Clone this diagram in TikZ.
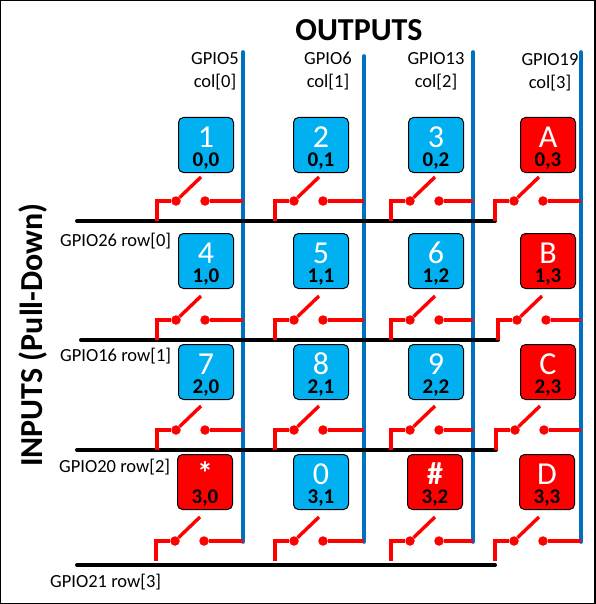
\documentclass[tikz,border=0pt]{standalone}
\usepackage{fontspec}
\setmainfont{Carlito}
\usepackage{xcolor}
\usetikzlibrary{positioning,calc}
\definecolor{keyblue}{HTML}{00B0F0}
\definecolor{keyred}{HTML}{FF0000}
\definecolor{colblue}{HTML}{0070C0}
\tikzset{
  bluekey/.style={draw=black,line width=1pt,fill=keyblue,rounded corners=5pt,minimum size=55pt,inner sep=0pt},
  redkey/.style={bluekey,fill=keyred},
  keynum/.style={text=white,font=\fontsize{32}{33}\selectfont,inner sep=0pt,text height=20pt,text depth=0pt},
  keyid/.style={text=black,font=\fontsize{21}{22}\selectfont\bfseries,inner sep=0pt,text height=14pt,text depth=3pt},
  colwire/.style={draw=colblue,line width=3.6pt,line cap=round},
  rowwire/.style={draw=black,line width=4pt,line cap=round},
  redwire/.style={draw=red,line width=3.4pt},
  contact/.style={circle,fill=red,minimum size=9.5pt,inner sep=0pt},
  gpiotxt/.style={font=\fontsize{18.5}{23}\selectfont,inner sep=0pt,align=center},
  headtxt/.style={font=\fontsize{32}{34}\selectfont\bfseries,inner sep=0pt},
}
\newcommand{\padkey}[6]{%
  \node[#3] (k#1#2) at (#4,#5) {};
  \node[keynum] (n#1#2) at ([yshift=8pt]k#1#2) {#6};
  \node[keyid] (i#1#2) at ([yshift=-16pt]k#1#2) {#1,#2};
}
\newcommand{\padswitch}[5]{%
  \node[contact] (a#1#2) at (#3+19,#4) {};
  \node[contact] (b#1#2) at (#3+48,#4) {};
  \coordinate (h#1#2) at (#3+44,#4-24);
  \coordinate (t#1#2) at (#3,#4+20);
  \draw[redwire] (a#1#2) -- (h#1#2);
  \draw[redwire,line join=miter] (a#1#2) -| (t#1#2);
  \draw[redwire] (b#1#2) -- (b#1#2 -| #5);
}
\begin{document}
\begin{tikzpicture}[x=1pt,y=-1pt]
\useasboundingbox (0,0) rectangle (595,604);
\draw[black,line width=2pt] (0,0) rectangle (595,604);
% column wires
\coordinate (c0a) at (243,52); \coordinate (c0b) at (243,542);
\coordinate (c1a) at (364,56); \coordinate (c1b) at (364,542);
\coordinate (c2a) at (473,52); \coordinate (c2b) at (473,542);
\coordinate (c3a) at (581,52); \coordinate (c3b) at (581,542);
\draw[colwire] (c0a) -- (c0b);
\draw[colwire] (c1a) -- (c1b);
\draw[colwire] (c2a) -- (c2b);
\draw[colwire] (c3a) -- (c3b);
% row wires
\coordinate (r0a) at (77,221); \coordinate (r0b) at (495,221);
\coordinate (r1a) at (81,340); \coordinate (r1b) at (498,340);
\coordinate (r2a) at (77,450); \coordinate (r2b) at (496,450);
\coordinate (r3a) at (77,565); \coordinate (r3b) at (495,565);
\draw[rowwire] (r0a) -- (r0b);
\draw[rowwire] (r1a) -- (r1b);
\draw[rowwire] (r2a) -- (r2b);
\draw[rowwire] (r3a) -- (r3b);
% keys
\padkey{0}{0}{bluekey}{206}{145}{1}
\padkey{0}{1}{bluekey}{321}{145}{2}
\padkey{0}{2}{bluekey}{436}{145}{3}
\padkey{0}{3}{redkey}{548}{145}{A}
\padkey{1}{0}{bluekey}{206}{261}{4}
\padkey{1}{1}{bluekey}{321}{261}{5}
\padkey{1}{2}{bluekey}{436}{261}{6}
\padkey{1}{3}{redkey}{548}{261}{B}
\padkey{2}{0}{bluekey}{206}{372}{7}
\padkey{2}{1}{bluekey}{321}{372}{8}
\padkey{2}{2}{bluekey}{436}{372}{9}
\padkey{2}{3}{redkey}{548}{372}{C}
\padkey{3}{0}{redkey}{205}{482}{\bfseries *}
\padkey{3}{1}{bluekey}{321}{482}{0}
\padkey{3}{2}{redkey}{435}{482}{\bfseries \#}
\padkey{3}{3}{redkey}{547}{482}{D}
% switches
\padswitch{0}{0}{157}{201}{c0a}
\padswitch{0}{1}{275}{201}{c1a}
\padswitch{0}{2}{391}{201}{c2a}
\padswitch{0}{3}{495}{201}{c3a}
\padswitch{1}{0}{157}{320}{c0a}
\padswitch{1}{1}{275}{320}{c1a}
\padswitch{1}{2}{391}{320}{c2a}
\padswitch{1}{3}{498}{320}{c3a}
\padswitch{2}{0}{157}{430}{c0a}
\padswitch{2}{1}{275}{430}{c1a}
\padswitch{2}{2}{391}{430}{c2a}
\padswitch{2}{3}{496}{430}{c3a}
\padswitch{3}{0}{156}{541}{c0a}
\padswitch{3}{1}{275}{541}{c1a}
\padswitch{3}{2}{391}{541}{c2a}
\padswitch{3}{3}{495}{541}{c3a}
% labels
\node[headtxt] (outputs) at (359,30) {OUTPUTS};
\node[headtxt,rotate=90] (inputs) at (33,335) {INPUTS (Pull-Down)};
\node[gpiotxt] (g0) at (215,71) {GPIO5\\col[0]};
\node[gpiotxt] (g1) at (328,71) {GPIO6\\col[1]};
\node[gpiotxt] (g2) at (436,71) {GPIO13\\col[2]};
\node[gpiotxt] (g3) at (550,72) {GPIO19\\col[3]};
\node[gpiotxt,anchor=west] (p0) at (60,241) {GPIO26 row[0]};
\node[gpiotxt,anchor=west] (p1) at (60,356) {GPIO16 row[1]};
\node[gpiotxt,anchor=west] (p2) at (59,467) {GPIO20 row[2]};
\node[gpiotxt,anchor=west] (p3) at (50,582) {GPIO21 row[3]};
\end{tikzpicture}
\end{document}
